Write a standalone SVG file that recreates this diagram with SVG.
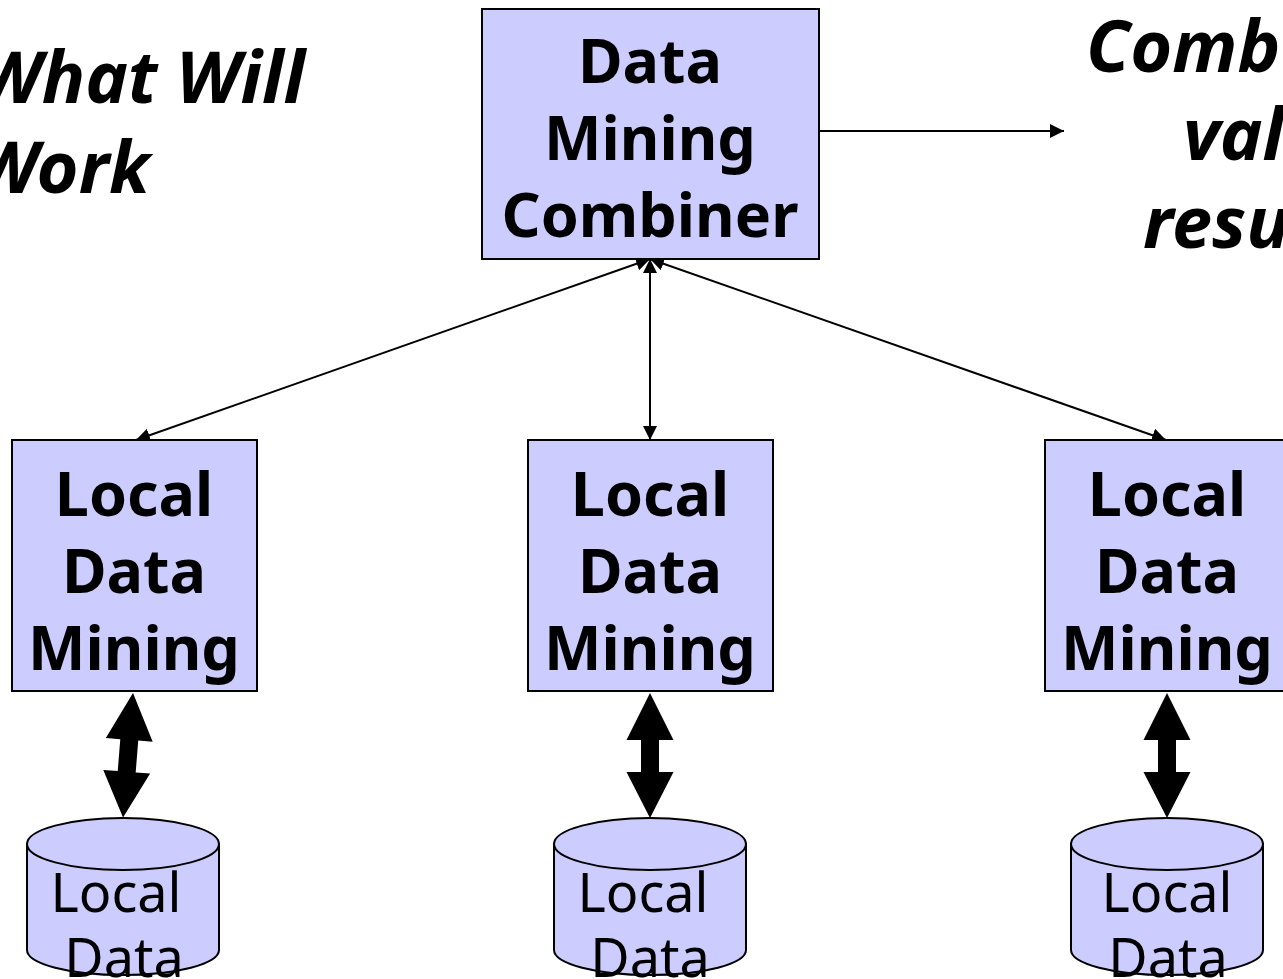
<svg xmlns="http://www.w3.org/2000/svg" width="1283" height="979" viewBox="0 0 1283 979">
<style>
.box{fill:#ccccff;stroke:#000;stroke-width:2}
.bt{font-family:"Noto Sans","DejaVu Sans",sans-serif;font-weight:bold;font-size:61px;text-anchor:middle;fill:#000}
.ct{font-family:"Noto Sans","DejaVu Sans",sans-serif;font-size:54px;text-anchor:middle;fill:#000}
.it{font-family:"Noto Sans","DejaVu Sans",sans-serif;font-weight:bold;font-style:italic;font-size:72px;fill:#000}
.ln{stroke:#000;stroke-width:2;fill:none}
.fat{fill:#000}
</style>
<defs>
<marker id="ah" viewBox="0 0 14 14" refX="14" refY="7" markerWidth="14" markerHeight="14" markerUnits="userSpaceOnUse" orient="auto-start-reverse">
<path d="M0,0 L14,7 L0,14 Z" fill="#000"/>
</marker>
<path id="fatArrow" d="M0,0 L23.5,47 L9,47 L9,79 L23.5,79 L0,125 L-23.5,79 L-9,79 L-9,47 L-23.5,47 Z"/>
</defs>

<g id="title-left">
<text class="it" x="305" y="103" text-anchor="end">What Will</text>
<text class="it" x="150" y="193" text-anchor="end">Work</text>
</g>
<g id="title-right">
<text class="it" x="1086" y="72">Comb</text>
<text class="it" x="1183" y="160">val</text>
<text class="it" x="1143" y="248">resu</text>
</g>

<g id="connectors">
<line class="ln" x1="650" y1="259" x2="136" y2="440" marker-start="url(#ah)" marker-end="url(#ah)"/>
<line class="ln" x1="650" y1="259" x2="650" y2="440" marker-start="url(#ah)" marker-end="url(#ah)"/>
<line class="ln" x1="650" y1="259" x2="1166" y2="440" marker-start="url(#ah)" marker-end="url(#ah)"/>
<line class="ln" x1="819" y1="131" x2="1064" y2="131" marker-end="url(#ah)"/>
<use href="#fatArrow" class="fat" transform="translate(133,693) rotate(4.57)"/>
<use href="#fatArrow" class="fat" transform="translate(650,693)"/>
<use href="#fatArrow" class="fat" transform="translate(1167,693)"/>
</g>

<g id="combiner">
<rect class="box" x="482" y="9" width="337" height="250"/>
<text class="bt" x="650" y="83">Data</text>
<text class="bt" x="650" y="160">Mining</text>
<text class="bt" x="650" y="237">Combiner</text>
</g>

<g id="ldm1">
<rect class="box" x="12" y="440" width="245" height="251"/>
<text class="bt" x="134" y="516">Local</text>
<text class="bt" x="134" y="593">Data</text>
<text class="bt" x="134" y="670">Mining</text>
</g>
<g id="ldm2">
<rect class="box" x="528" y="440" width="245" height="251"/>
<text class="bt" x="650" y="516">Local</text>
<text class="bt" x="650" y="593">Data</text>
<text class="bt" x="650" y="670">Mining</text>
</g>
<g id="ldm3">
<rect class="box" x="1045" y="440" width="245" height="251"/>
<text class="bt" x="1167" y="516">Local</text>
<text class="bt" x="1167" y="593">Data</text>
<text class="bt" x="1167" y="670">Mining</text>
</g>

<g id="db1">
<path class="box" d="M27,844 L27,950 A96,25 0 0 0 219,950 L219,844 Z"/>
<ellipse class="box" cx="123" cy="844" rx="96" ry="26"/>
<text class="ct" x="116" y="912">Local</text>
<text class="ct" x="124" y="977">Data</text>
</g>
<g id="db2">
<path class="box" d="M554,844 L554,950 A96,25 0 0 0 746,950 L746,844 Z"/>
<ellipse class="box" cx="650" cy="844" rx="96" ry="26"/>
<text class="ct" x="643" y="912">Local</text>
<text class="ct" x="650" y="977">Data</text>
</g>
<g id="db3">
<path class="box" d="M1071,844 L1071,950 A96,25 0 0 0 1263,950 L1263,844 Z"/>
<ellipse class="box" cx="1167" cy="844" rx="96" ry="26"/>
<text class="ct" x="1167" y="912">Local</text>
<text class="ct" x="1168" y="977">Data</text>
</g>
</svg>
